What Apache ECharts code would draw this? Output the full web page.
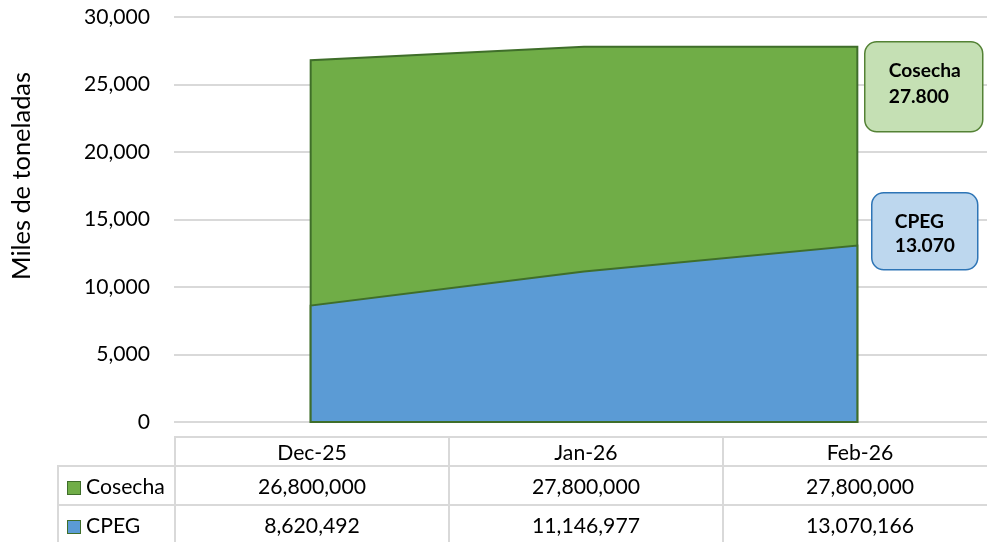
<!DOCTYPE html>
<html>
<head>
<meta charset="utf-8">
<script src="https://cdn.jsdelivr.net/npm/echarts@6/dist/echarts.min.js"></script>
<style>
  html, body { margin: 0; padding: 0; background: #fff; overflow: hidden; }
  #wrap { position: relative; width: 987px; height: 542px; overflow: hidden; }
  #chart { position: absolute; left: 0; top: 0; width: 1000px; height: 542px; }
  #tbl { position: absolute; left: 57px; top: 436px; border-collapse: collapse;
         font-family: Lato, sans-serif; color: #000; table-layout: fixed; width: 939px; }
  #tbl td { border: 2px solid #d9d9d9; text-align: center; padding: 0; white-space: nowrap; }
  #tbl td.key { text-align: left; padding-left: 8px; }
  #tbl td.blank { border-top: none; border-left: none; }
  .sw { display: inline-block; width: 12px; height: 12px; border: 1.5px solid #3f6e2a; vertical-align: -1px; margin-right: 5px; }
</style>
</head>
<body>
<div id="wrap">
  <div id="chart"></div>
  <table id="tbl"></table>
</div>
<script>
// datos (toneladas)
var meses = ['Dec-25', 'Jan-26', 'Feb-26'];
var cosecha = [26800000, 27800000, 27800000];
var cpeg = [8620492, 11146977, 13070166];
var yTicks = [0, 5000, 10000, 15000, 20000, 25000, 30000];

var verde = '#70ad47', azul = '#5b9bd5', borde = '#3f6e2a';
var FONT = 'Lato, sans-serif';

// en miles de toneladas para el eje
var cosechaMiles = cosecha.map(function (v) { return v / 1000; });
var cpegMiles = cpeg.map(function (v) { return v / 1000; });

function fmt(n) { return n.toLocaleString('en-US'); }
function fmtEs(n) { return Math.round(n).toLocaleString('de-DE'); }

// tamaño de letra para que un texto ocupe el ancho del original
var ctx = document.createElement('canvas').getContext('2d');
function fit(text, w, bold) {
    ctx.font = (bold ? 'bold ' : '') + '100px ' + FONT;
    return Math.round(1000 * w / ctx.measureText(text).width) / 10;
}
var fsEje = fit('30,000', 66);
var fsNombre = fit('Miles de toneladas', 208);
var fsTabla = fit('26,800,000', 108);
var fsCaja = fit('Cosecha', 72, true);

function areaPoly(values, fill) {
    return function (params, api) {
        if (params.dataIndex !== 0) return;
        var pts = [api.coord([0, 0])];
        values.forEach(function (v, i) { pts.push(api.coord([i, v])); });
        pts.push(api.coord([values.length - 1, 0]));
        return {
            type: 'polygon',
            shape: { points: pts },
            style: { fill: fill, stroke: borde, lineWidth: 2, lineJoin: 'miter' }
        };
    };
}

function caja(x, y, w, h, fill, stroke, l1, l2, tx, ty1, ty2) {
    var st = { fill: '#000', font: 'bold ' + fsCaja + 'px ' + FONT, verticalAlign: 'middle' };
    return {
        type: 'group', left: x, top: y, z: 100,
        children: [
            { type: 'rect', z: 100, shape: { x: 0, y: 0, width: w, height: h, r: 12 },
              style: { fill: fill, stroke: stroke, lineWidth: 1.5 } },
            { type: 'text', z: 101, x: tx, y: ty1, style: Object.assign({ text: l1 }, st) },
            { type: 'text', z: 101, x: tx, y: ty2, style: Object.assign({ text: l2 }, st) }
        ]
    };
}

var myChart = echarts.init(document.getElementById('chart'));
myChart.setOption({
    animation: false,
    textStyle: { fontFamily: FONT },
    grid: { left: 174, top: 17, right: 6, height: 405, outerBoundsMode: 'none', containLabel: false },
    xAxis: {
        type: 'category',
        data: meses,
        boundaryGap: true,
        axisLine: { show: false },
        axisTick: { show: false },
        axisLabel: { show: false }
    },
    yAxis: {
        type: 'value',
        min: 0,
        max: yTicks[yTicks.length - 1],
        interval: yTicks[1] - yTicks[0],
        axisLine: { show: false },
        axisTick: { show: false },
        axisLabel: {
            margin: 24, fontSize: fsEje, color: '#000',
            formatter: function (v) { return fmt(v); }
        },
        splitLine: { lineStyle: { color: '#d9d9d9', width: 2 } }
    },
    series: [
        {
            name: 'Cosecha',
            type: 'custom',
            renderItem: areaPoly(cosechaMiles, verde),
            data: cosechaMiles.map(function (v, i) { return [i, v]; }),
            encode: { x: 0, y: 1 },
            z: 2
        },
        {
            name: 'CPEG',
            type: 'custom',
            renderItem: areaPoly(cpegMiles, azul),
            data: cpegMiles.map(function (v, i) { return [i, v]; }),
            encode: { x: 0, y: 1 },
            z: 3
        }
    ],
    graphic: [
        {
            type: 'text', x: 22, y: 176, rotation: Math.PI / 2,
            style: { text: 'Miles de toneladas', fill: '#000', font: fsNombre + 'px ' + FONT,
                     align: 'center', verticalAlign: 'middle' }
        },
        caja(864, 41, 118, 90, '#c5e0b4', '#548235', 'Cosecha', fmtEs(cosechaMiles[2]), 24, 29, 55),
        caja(871, 192, 106, 77, '#bdd7ee', '#2e75b6', 'CPEG', fmtEs(cpegMiles[2]), 23, 29, 53)
    ]
});

// tabla de datos
var tbl = document.getElementById('tbl');
tbl.style.fontSize = fsTabla + 'px';
var html = '<colgroup><col style="width:117px">' + meses.map(function () { return '<col style="width:274px">'; }).join('') + '</colgroup>';
html += '<tr style="height:29px"><td class="blank"></td>' + meses.map(function (m) { return '<td>' + m + '</td>'; }).join('') + '</tr>';
html += '<tr style="height:39px"><td class="key"><span class="sw" style="background:' + verde + '"></span>Cosecha</td>' +
        cosecha.map(function (v) { return '<td>' + fmt(v) + '</td>'; }).join('') + '</tr>';
html += '<tr style="height:39px"><td class="key"><span class="sw" style="background:' + azul + '"></span>CPEG</td>' +
        cpeg.map(function (v) { return '<td>' + fmt(v) + '</td>'; }).join('') + '</tr>';
tbl.innerHTML = html;
</script>
</body>
</html>
